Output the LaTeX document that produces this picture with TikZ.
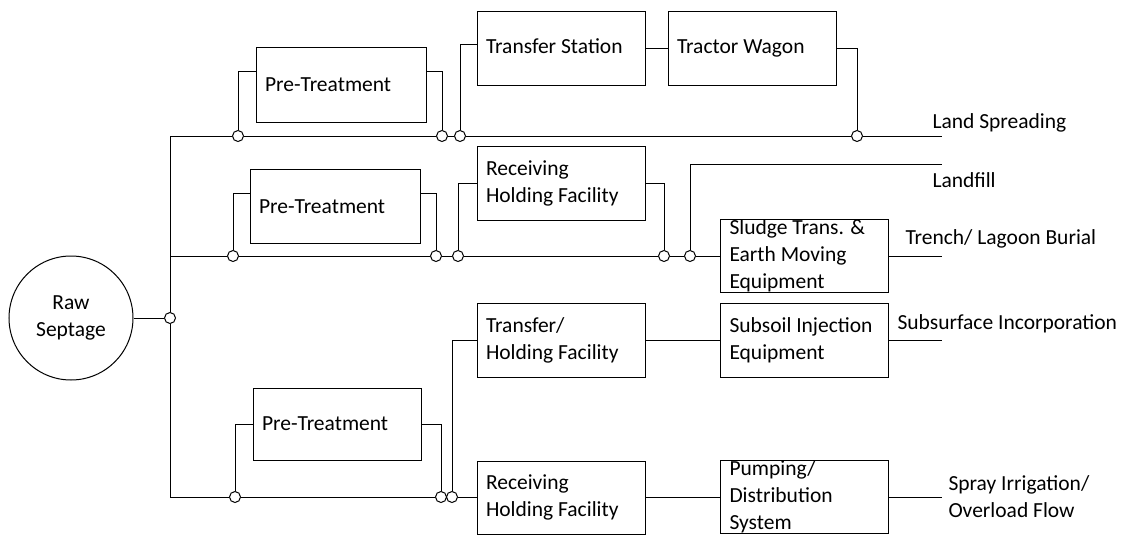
\documentclass[tikz,border=0pt]{standalone}
\usepackage{fontspec}
\setmainfont{Carlito}
\usepackage{tikz}
\usetikzlibrary{shapes}

\tikzset{
  unit/.style={draw, rectangle, align=flush left, inner xsep=9pt, inner ysep=0pt, minimum height=74pt, text width=150pt},
  pretreat/.style={unit, text width=152pt},
  joint/.style={draw, circle, fill=white, inner sep=0pt, minimum size=11pt},
  source/.style={draw, circle, inner sep=0pt, minimum size=124pt, align=center},
  outlet/.style={anchor=base west, inner sep=0pt, align=flush left}
}

\begin{document}
\begin{tikzpicture}[x=1pt, y=-1pt, line width=1pt, font=\fontsize{21.5}{27}\selectfont]
\useasboundingbox (0,0) rectangle (1122,535);

\node[source] (raw) at (71,318) {Raw\\Septage};
\node[joint] (j0) at (170,318) {};

\node[pretreat] (pre1) at (341,85) {Pre-Treatment};
\node[unit] (ts) at (561,48.5) {Transfer Station\strut};
\node[unit] (tw) at (752,48.5) {Tractor Wagon\strut};
\node[joint] (j1a) at (238,136) {};
\node[joint] (j1b) at (442,136) {};
\node[joint] (j1c) at (460,136) {};
\node[joint] (j1d) at (857,136) {};
\coordinate (e1) at (942,136);
\node[outlet] (land) at (932,128) {Land Spreading};

\node[pretreat] (pre2) at (335,206.5) {Pre-Treatment};
\node[unit] (rh1) at (561,183) {Receiving\\Holding Facility};
\node[unit, minimum height=73pt] (sl) at (804.5,256) {Sludge Trans. \&\\Earth Moving\\Equipment};
\node[joint] (j2a) at (233,256) {};
\node[joint] (j2b) at (436,256) {};
\node[joint] (j2c) at (458,256) {};
\node[joint] (j2d) at (664,256) {};
\node[joint] (j2e) at (690,256) {};
\coordinate (e2l) at (942,164);
\coordinate (e2) at (942,256);
\node[outlet] (fill) at (932,187) {Landfill};
\node[outlet] (trench) at (905,244) {Trench/ Lagoon Burial};

\node[unit] (th) at (561,340) {Transfer/\\Holding Facility};
\node[unit] (si) at (804.5,340) {Subsoil Injection\\Equipment};
\coordinate (e3) at (942,340);
\node[outlet] (subsurf) at (897,329) {Subsurface Incorporation};

\node[pretreat, text width=150pt, minimum height=72pt] (pre3) at (337,424) {Pre-Treatment};
\node[unit, minimum height=73pt] (rh2) at (561,497.5) {Receiving\\Holding Facility};
\node[unit, minimum height=73pt] (pd) at (804.5,497) {Pumping/\\Distribution\\System};
\node[joint] (j4a) at (235,497) {};
\node[joint] (j4b) at (441,497) {};
\node[joint] (j4c) at (452,497) {};
\coordinate (e4) at (942,497);
\node[outlet, anchor=west] (spray) at (948,497) {Spray Irrigation/\\Overload Flow};

\draw (raw) -- (j0);
\draw (j0) |- (j1a) -- (j1b) -- (j1c) -- (j1d) -- (e1);
\draw (j0) |- (j2a) -- (j2b) -- (j2c) -- (j2d) -- (j2e) -- (sl);
\draw (j0) |- (j4a) -- (j4b) -- (j4c) -- (j4c -| rh2.west);
\draw (rh2.east |- j4c) -- (pd.west |- j4c);
\draw (pd.east |- j4c) -- (e4);

\draw (j1a) |- ([yshift=13pt]pre1.west);
\draw ([yshift=13pt]pre1.east) -| (j1b);
\draw (j1c) |- ([yshift=4pt]ts.west);
\draw (ts) -- (tw);
\draw (tw.east) -| (j1d);

\draw (j2a) |- ([yshift=13pt]pre2.west);
\draw ([yshift=13pt]pre2.east) -| (j2b);
\draw (j2c) |- (rh1.west);
\draw (rh1.east) -| (j2d);
\draw (j2e) |- (e2l);
\draw (sl) -- (e2);

\draw (j4c) |- (th.west);
\draw (th) -- (si) -- (e3);

\draw (j4a) |- (pre3.west);
\draw (pre3.east) -| (j4b);

\end{tikzpicture}
\end{document}
